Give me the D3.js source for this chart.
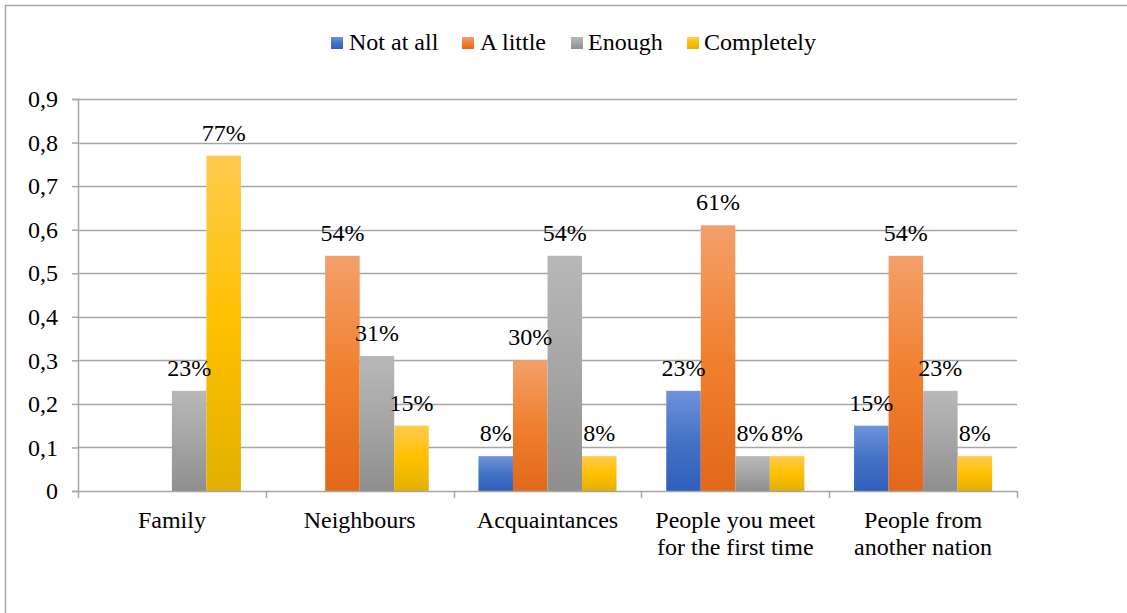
<!DOCTYPE html>
<html>
<head>
<meta charset="utf-8">
<script src="https://cdn.jsdelivr.net/npm/d3@7"></script>
<style>
  html, body { margin: 0; padding: 0; background: #fff; }
  #warm { position: absolute; left: -9999px; top: 0; font-family: 'Liberation Serif'; font-size: 24px; }
</style>
</head>
<body>
<span id="warm">Family Not at all 0,9 77%</span>
<svg id="chart" width="1127" height="613"></svg>
<script>
// Trust levels by group
const categories = [
  ["Family"],
  ["Neighbours"],
  ["Acquaintances"],
  ["People you meet", "for the first time"],
  ["People from", "another nation"]
];
const seriesNames = ["Not at all", "A little", "Enough", "Completely"];
const notAtAll   = [0,    0,    0.08, 0.23, 0.15];
const aLittle    = [0,    0.54, 0.30, 0.61, 0.54];
const enough     = [0.23, 0.31, 0.54, 0.08, 0.23];
const completely = [0.77, 0.15, 0.08, 0.08, 0.08];
const yTicks = [0, 0.1, 0.2, 0.3, 0.4, 0.5, 0.6, 0.7, 0.8, 0.9];
const yTickLabels = ["0", "0,1", "0,2", "0,3", "0,4", "0,5", "0,6", "0,7", "0,8", "0,9"];

const seriesValues = [notAtAll, aLittle, enough, completely];
const gradients = [
  ["#6f93da", "#4472c4", "#2f5fbd"],
  ["#f4a06a", "#f0802f", "#e2681a"],
  ["#b8b8b8", "#a5a5a5", "#8e8e8e"],
  ["#ffcb4d", "#ffc000", "#e2b000"]
];
const FONT = "Liberation Serif";
const FS = 24;
const W = 1127, H = 613;
const plot = { left: 78, right: 1017, top: 99, bottom: 491 };

function serif(sel) {
  return sel.attr("font-size", FS).style("font-family", `'${FONT}'`).attr("fill", "#000");
}

function draw() {
  const svg = d3.select("#chart");
  svg.selectAll("*").remove();

  // gradient fills
  const defs = svg.append("defs");
  gradients.forEach((g, i) => {
    const lg = defs.append("linearGradient")
      .attr("id", "grad" + i).attr("x1", 0).attr("y1", 0).attr("x2", 0).attr("y2", 1);
    lg.append("stop").attr("offset", "0%").attr("stop-color", g[0]);
    lg.append("stop").attr("offset", "50%").attr("stop-color", g[1]);
    lg.append("stop").attr("offset", "100%").attr("stop-color", g[2]);
  });

  // outer frame
  svg.append("rect")
    .attr("x", 5.5).attr("y", 5.5).attr("width", W + 20).attr("height", H + 20)
    .attr("fill", "none").attr("stroke", "#a6a6a6").attr("stroke-width", 1.5);

  const catIdx = categories.map((_, i) => i);
  const x0 = d3.scaleBand().domain(catIdx).range([plot.left, plot.right]).paddingInner(0).paddingOuter(0);
  const x1 = d3.scaleBand().domain(seriesNames).range([0, x0.bandwidth()]).paddingInner(0).paddingOuter(0.72);
  const y = d3.scaleLinear().domain([0, 0.9]).range([plot.bottom, plot.top]);

  // gridlines
  svg.append("g").selectAll("line").data(yTicks.slice(1)).join("line")
    .attr("x1", plot.left).attr("x2", plot.right)
    .attr("y1", d => Math.round(y(d)) + 0.5).attr("y2", d => Math.round(y(d)) + 0.5)
    .attr("stroke", "#a6a6a6").attr("stroke-width", 1.5);

  // y axis
  const yAxis = d3.axisLeft(y).tickValues(yTicks).tickSize(6).tickPadding(14)
    .tickFormat((d, i) => yTickLabels[i]);
  const gy = svg.append("g").attr("transform", `translate(${plot.left},0)`).call(yAxis);
  gy.attr("font-family", null).attr("font-size", null);
  gy.select(".domain").attr("stroke", "#a6a6a6").attr("stroke-width", 1.5);
  gy.selectAll(".tick line").attr("stroke", "#a6a6a6").attr("stroke-width", 1.5);
  serif(gy.selectAll(".tick text"));

  // bars
  const groups = svg.append("g").selectAll("g").data(catIdx).join("g")
    .attr("transform", i => `translate(${x0(i)},0)`);
  groups.selectAll("rect")
    .data(i => seriesNames.map((s, k) => ({ s, k, v: seriesValues[k][i] })))
    .join("rect")
    .attr("x", d => x1(d.s))
    .attr("width", x1.bandwidth())
    .attr("y", d => y(d.v))
    .attr("height", d => y(0) - y(d.v))
    .attr("fill", d => `url(#grad${d.k})`);

  // value labels (zero values carry no label)
  serif(groups.selectAll("text")
    .data(i => seriesNames.map((s, k) => ({ s, k, v: seriesValues[k][i] })).filter(d => d.v > 0))
    .join("text"))
    .attr("x", d => x1(d.s) + x1.bandwidth() / 2)
    .attr("y", d => y(d.v) - 15)
    .attr("text-anchor", "middle")
    .text(d => Math.round(d.v * 100) + "%");

  // x axis
  const xAxisG = svg.append("g");
  xAxisG.append("line")
    .attr("x1", plot.left).attr("x2", plot.right)
    .attr("y1", plot.bottom + 0.5).attr("y2", plot.bottom + 0.5)
    .attr("stroke", "#a6a6a6").attr("stroke-width", 1.5);
  const boundaries = catIdx.map(i => x0(i)).concat([plot.right]);
  xAxisG.selectAll("line.tick").data(boundaries).join("line").attr("class", "tick")
    .attr("x1", d => Math.round(d) + 0.5).attr("x2", d => Math.round(d) + 0.5)
    .attr("y1", plot.bottom).attr("y2", plot.bottom + 7)
    .attr("stroke", "#a6a6a6").attr("stroke-width", 1.5);
  serif(xAxisG.selectAll("text").data(catIdx).join("text"))
    .attr("x", i => x0(i) + x0.bandwidth() / 2)
    .attr("y", 528)
    .attr("text-anchor", "middle")
    .each(function (i) {
      const t = d3.select(this);
      categories[i].forEach((line, j) => {
        t.append("tspan").attr("x", x0(i) + x0.bandwidth() / 2).attr("dy", j === 0 ? 0 : 27).text(line);
      });
    });

  // legend
  const legendItems = [
    { name: seriesNames[0], mx: 331, tx: 349 },
    { name: seriesNames[1], mx: 462, tx: 480 },
    { name: seriesNames[2], mx: 571, tx: 588 },
    { name: seriesNames[3], mx: 687, tx: 704 }
  ];
  const lg = svg.append("g");
  legendItems.forEach((d, k) => {
    lg.append("rect").attr("x", d.mx).attr("y", 37).attr("width", 12).attr("height", 12)
      .attr("fill", `url(#grad${k})`);
    serif(lg.append("text")).attr("x", d.tx).attr("y", 50).text(d.name);
  });
}

draw();
// redraw once the serif face is ready
if (document.fonts && document.fonts.load) {
  document.fonts.load(`${FS}px '${FONT}'`).then(draw).catch(() => {});
}
</script>
</body>
</html>
